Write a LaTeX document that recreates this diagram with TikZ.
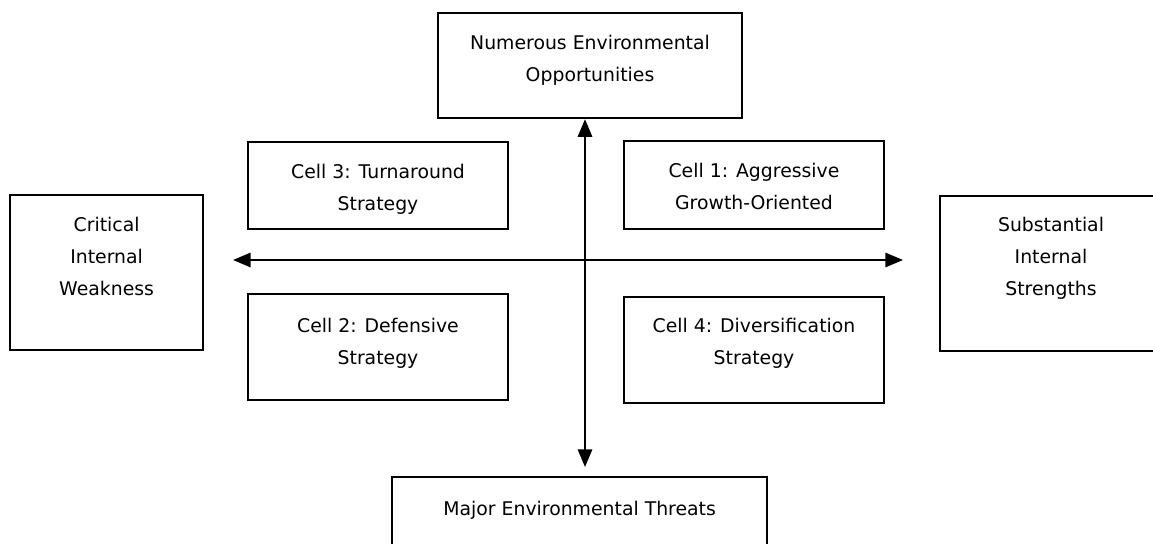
\documentclass[tikz,border=0pt]{standalone}
\usepackage{fontspec}
\setmainfont{DejaVu Sans}
\usetikzlibrary{arrows.meta}
\tikzset{
  cellbox/.style={draw, line width=1.4pt, anchor=north west, inner sep=0pt},
  celltext/.style={anchor=north, align=center, inner sep=0pt,
    font=\fontsize{13.4}{22.8}\selectfont},
  axis/.style={line width=1.2pt,
    {Triangle[length=0.44cm,width=0.36cm]}-{Triangle[length=0.44cm,width=0.36cm]}}
}
\begin{document}
\begin{tikzpicture}[x=0.025cm,y=-0.025cm]
		\useasboundingbox (0,0) rectangle (1153,544);
		\clip (0,0) rectangle (1153,544);
		% outer boxes
		\node[cellbox, minimum width=7.6cm, minimum height=2.63cm,
		  label={[celltext, yshift=-0.58cm]north:Numerous Environmental\\Opportunities}] (opp) at (437,12) {};
		\node[cellbox, minimum width=9.38cm, minimum height=2.5cm,
		  label={[celltext, yshift=-0.63cm]north:Major Environmental Threats}] (threat) at (391,476) {};
		\node[cellbox, minimum width=4.83cm, minimum height=3.88cm,
		  label={[celltext, yshift=-0.58cm]north:Critical\\Internal\\Weakness}] (weak) at (9,194) {};
		\node[cellbox, minimum width=5.55cm, minimum height=3.88cm,
		  label={[celltext, yshift=-0.55cm]north:Substantial\\Internal\\Strengths}] (strong) at (939,195) {};
		% the four cells
		\node[cellbox, minimum width=6.5cm, minimum height=2.18cm,
		  label={[celltext, yshift=-0.57cm]north:Cell 3: Turnaround\\Strategy}] (cellthree) at (247,141) {};
		\node[cellbox, minimum width=6.5cm, minimum height=2.2cm,
		  label={[celltext, yshift=-0.57cm]north:Cell 1: Aggressive\\Growth-Oriented}] (cellone) at (623,140) {};
		\node[cellbox, minimum width=6.5cm, minimum height=2.65cm,
		  label={[celltext, yshift=-0.62cm]north:Cell 2: Defensive\\Strategy}] (celltwo) at (247,293) {};
		\node[cellbox, minimum width=6.5cm, minimum height=2.65cm,
		  label={[celltext, yshift=-0.55cm]north:Cell 4: Diversification\\Strategy}] (cellfour) at (623,296) {};
		% axes
		\coordinate (mid) at (585,260);
		\coordinate (down) at (585,467);
		\coordinate (west) at (233,260);
		\coordinate (east) at (903,260);
		\draw[axis] (opp.south -| mid) -- (down);
		\draw[axis] (west) -- (east);
\end{tikzpicture}
\end{document}
